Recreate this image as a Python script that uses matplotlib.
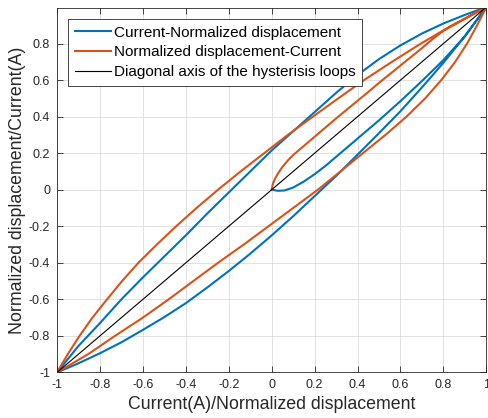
import matplotlib
matplotlib.use('Agg')
import matplotlib.pyplot as plt
import numpy as np

plt.rcParams['font.family'] = ['Liberation Sans', 'DejaVu Sans']

# blue loop, current (x) -> normalized displacement (y)
cur_grid = [-1, -0.9, -0.8, -0.7, -0.6, -0.5, -0.4, -0.3, -0.2, -0.1, 0,
            0.1, 0.2, 0.3, 0.4, 0.5, 0.6, 0.7, 0.8, 0.9, 1]
blue_upper = [-1, -0.855, -0.73, -0.60, -0.48, -0.365, -0.25, -0.13, -0.015, 0.1, 0.215,
              0.32, 0.425, 0.53, 0.628, 0.715, 0.79, 0.855, 0.91, 0.957, 1]
blue_lower = [-1, -0.95, -0.895, -0.835, -0.767, -0.697, -0.621, -0.535, -0.445, -0.35, -0.25,
              -0.145, -0.035, 0.075, 0.192, 0.31, 0.43, 0.56, 0.695, 0.84, 1]

# initial (virgin) curves starting at the origin
blue_virgin_x = [0, 0.03, 0.06, 0.1, 0.15, 0.2, 0.25, 0.3, 0.4, 0.5, 0.6, 0.7, 0.8, 0.9, 1]
blue_virgin_y = [0, -0.006, -0.004, 0.012, 0.045, 0.085, 0.13, 0.18, 0.28, 0.38, 0.485, 0.595, 0.71, 0.84, 1]
orange_virgin_x = [0, 0.005, 0.015, 0.03, 0.05, 0.075, 0.1, 0.15, 0.2, 0.25, 0.3, 0.367,
                   0.45, 0.5, 0.6, 0.7, 0.75, 0.8, 0.9, 1]
orange_virgin_y = [0, 0.03, 0.06, 0.09, 0.125, 0.16, 0.19, 0.24, 0.29, 0.34, 0.39, 0.455,
                   0.535, 0.585, 0.68, 0.775, 0.825, 0.87, 0.935, 1]

blue = '#0072BD'
orange = '#D95319'

fig = plt.figure(figsize=(4.89, 4.18), dpi=100)
ax = fig.add_axes([0.1166, 0.109, 0.878, 0.872])

# blue: one loop plus the initial curve
bx = cur_grid[::-1] + cur_grid
by = blue_upper[::-1] + blue_lower
ax.plot(blue_virgin_x + bx, blue_virgin_y + by, color=blue, lw=1.5,
        label='Current-Normalized displacement')
# orange is the inverse relation: displacement on x, current on y
ax.plot(orange_virgin_x + by, orange_virgin_y + bx, color=orange, lw=1.5,
        label='Normalized displacement-Current')
ax.plot([-1, 1], [-1, 1], color='k', lw=0.8,
        label='Diagonal axis of the hysterisis loops')

ax.set_xlim(-1, 1)
ax.set_ylim(-1, 0.995)
ax.set_xticks(np.arange(-1, 1.01, 0.2))
ax.set_yticks(np.arange(-1, 0.81, 0.2))
ax.set_xticklabels(['-1', '-0.8', '-0.6', '-0.4', '-0.2', '0', '0.2', '0.4', '0.6', '0.8', '1'])
ax.set_yticklabels(['-1', '-0.8', '-0.6', '-0.4', '-0.2', '0', '0.2', '0.4', '0.6', '0.8'])
ax.grid(True, color='#dcdcdc', lw=0.6)
ax.set_axisbelow(True)
ax.tick_params(direction='in', length=4, width=0.6, top=True, right=True,
               labelsize=9, colors='#262626', pad=5)
for s in ax.spines.values():
    s.set_color('#262626')
    s.set_linewidth(0.6)

ax.set_xlabel('Current(A)/Normalized displacement', fontsize=12.8, color='#262626', labelpad=3)
ax.set_ylabel('Normalized displacement/Current(A)', fontsize=12.8, color='#262626', labelpad=2)

leg = ax.legend(loc='upper left', fontsize=11, fancybox=False, framealpha=1,
                edgecolor='#262626', borderaxespad=0.7, handlelength=2.4,
                handletextpad=0.15, borderpad=0.45, labelspacing=0.38)
leg.get_frame().set_linewidth(0.6)

fig.savefig('out.png', dpi=100)
